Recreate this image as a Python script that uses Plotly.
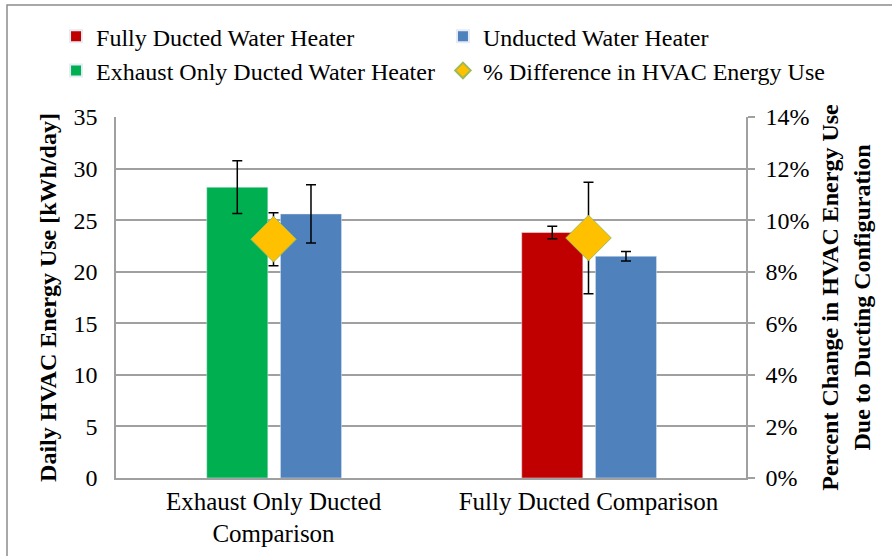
import plotly.graph_objects as go

categories = ["Exhaust Only Ducted<br>Comparison", "Fully Ducted Comparison"]

fully_x = [categories[1]]
fully_vals = [23.8]
fully_err = [0.6]

exhaust_x = [categories[0]]
exhaust_vals = [28.2]
exhaust_err = [2.56]

unducted_x = categories
unducted_vals = [25.6, 21.5]
unducted_err = [2.82, 0.47]

pct_vals = [0.0926, 0.0931]
pct_err = [0.0103, 0.0216]

right_ticks = [0, 0.02, 0.04, 0.06, 0.08, 0.10, 0.12, 0.14]

FONT = "Liberation Serif, Times New Roman, serif"
GRID = "#A0A0A0"
BW = 0.194
LEFT_OFF = -0.212
RIGHT_OFF = 0.022

err_style = dict(type="data", color="#000000", thickness=1.5, width=5)

fig = go.Figure()
fig.add_trace(go.Bar(
    name="Fully Ducted Water Heater", x=fully_x, y=fully_vals,
    marker_color="#C00000", width=BW, offset=LEFT_OFF,
    error_y=dict(array=fully_err, **err_style),
))
fig.add_trace(go.Bar(
    name="Unducted Water Heater", x=unducted_x, y=unducted_vals,
    marker_color="#4F81BD", width=BW, offset=RIGHT_OFF,
    error_y=dict(array=unducted_err, **err_style),
))
fig.add_trace(go.Bar(
    name="Exhaust Only Ducted Water Heater", x=exhaust_x, y=exhaust_vals,
    marker_color="#00B050", width=BW, offset=LEFT_OFF,
    error_y=dict(array=exhaust_err, **err_style),
))
fig.add_trace(go.Scatter(
    name="% Difference in HVAC Energy Use", x=categories, y=pct_vals,
    mode="markers", yaxis="y2",
    marker=dict(symbol="diamond", size=35, color="#FFC000",
                line=dict(color="#9BBB59", width=1)),
    error_y=dict(array=pct_err, **err_style),
))

fig.update_layout(
    width=892, height=556,
    margin=dict(l=116, r=146, t=117, b=78),
    paper_bgcolor="white", plot_bgcolor="white",
    font=dict(family=FONT, size=24, color="#000000"),
    barmode="overlay",
    showlegend=True,
    legend=dict(
        orientation="h", x=1.1334, xanchor="right", y=1.285, yanchor="top",
        font=dict(family=FONT, size=24), bgcolor="rgba(0,0,0,0)",
        traceorder="normal", itemsizing="constant",
    ),
    xaxis=dict(
        type="category", categoryorder="array", categoryarray=categories,
        showline=True, linecolor=GRID, linewidth=1.5,
        showgrid=False, ticks="", automargin=False,
        tickfont=dict(family=FONT, size=25),
    ),
    yaxis=dict(
        range=[0, 35], dtick=5, tick0=0,
        showline=True, linecolor=GRID, linewidth=1.5,
        showgrid=True, gridcolor=GRID, gridwidth=1.5,
        ticks="", ticklabelstandoff=12, automargin=False, zeroline=False,
        title=dict(text="<b>Daily HVAC Energy Use [kWh/day]</b>",
                   font=dict(family=FONT, size=24), standoff=10),
    ),
    yaxis2=dict(
        overlaying="y", side="right", range=[0, 0.14],
        tickvals=right_ticks, tickformat=".0%",
        showline=True, linecolor=GRID, linewidth=1.5,
        showgrid=False, ticks="outside", ticklen=7, tickcolor=GRID, tickwidth=1.5,
        ticklabelstandoff=6, automargin=False, zeroline=False,
        title=dict(text="<b>Percent Change in HVAC Energy Use<br>Due to Ducting Configuration</b>",
                   font=dict(family=FONT, size=24), standoff=13),
    ),
    shapes=[dict(type="rect", xref="paper", yref="paper",
                 x0=(7 - 116) / 630, x1=1.5, y0=-1.0, y1=(478 - 5) / 361,
                 line=dict(color="#8C8C8C", width=1.5), fillcolor="rgba(0,0,0,0)",
                 layer="below")],
)

fig.write_html("out.html", config={"displayModeBar": False},
               post_script="document.body.style.margin='0';")
